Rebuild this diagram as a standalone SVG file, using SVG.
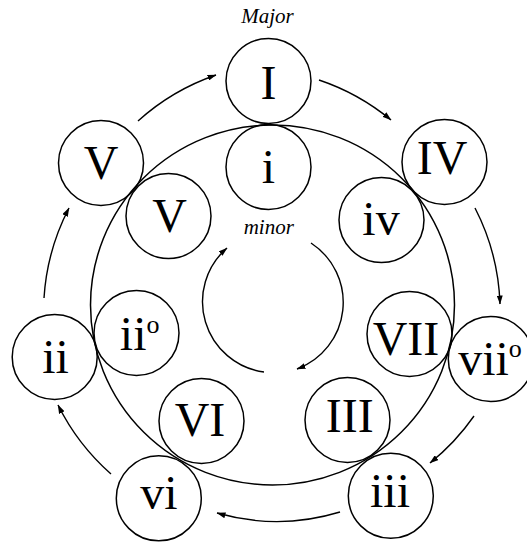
<svg xmlns="http://www.w3.org/2000/svg" width="527" height="545" viewBox="0 0 527 545">
<style>
.n{fill:none;stroke:#000;stroke-width:1.5}
.t{font-family:"Liberation Serif","Times New Roman",serif;font-size:48px;text-anchor:middle;fill:#000}
.s{font-size:26px}
.lab{font-family:"Liberation Serif","Times New Roman",serif;font-size:21px;font-style:italic;text-anchor:middle;fill:#000}
.c{fill:none;stroke:#000;stroke-width:1.4;marker-end:url(#ah)}
</style>
<defs>
<marker id="ah" viewBox="0 0 9 6" refX="8.5" refY="3" markerWidth="9" markerHeight="6" markerUnits="userSpaceOnUse" orient="auto">
<path d="M0,0 L9,3 L0,6 z" fill="#000"/>
</marker>
</defs>
<rect width="527" height="545" fill="#fff"/>
<ellipse id="ring" cx="272.5" cy="305" rx="182" ry="180" class="n"/>
<text class="lab" x="267.5" y="23">Major</text>
<text class="lab" x="268.8" y="234">minor</text>
<g id="maj-I"><circle cx="268.5" cy="81" r="42.5" class="n"/><text class="t" x="268.5" y="99">I</text></g>
<g id="maj-IV"><circle cx="444.5" cy="162" r="42.5" class="n"/><text class="t" x="442" y="174">IV</text></g>
<g id="maj-vii"><circle cx="490.8" cy="359" r="42.5" class="n"/><text class="t" x="490" y="375">vii<tspan class="s" dy="-18">o</tspan></text></g>
<g id="maj-iii"><circle cx="390.8" cy="495.8" r="42.5" class="n"/><text class="t" x="390" y="506.7">iii</text></g>
<g id="maj-vi"><circle cx="158.8" cy="498.3" r="42.5" class="n"/><text class="t" x="159" y="509">vi</text></g>
<g id="maj-ii"><circle cx="54.7" cy="357" r="42.5" class="n"/><text class="t" x="55.5" y="372.7">ii</text></g>
<g id="maj-V"><circle cx="101" cy="163" r="42.5" class="n"/><text class="t" x="101" y="179">V</text></g>
<g id="min-i"><circle cx="268.5" cy="167" r="42.5" class="n"/><text class="t" x="268.5" y="182.7">i</text></g>
<g id="min-iv"><circle cx="381.5" cy="220" r="42.5" class="n"/><text class="t" x="381" y="235">iv</text></g>
<g id="min-VII"><circle cx="409.5" cy="334" r="42.5" class="n"/><text class="t" x="406" y="355">VII</text></g>
<g id="min-III"><circle cx="347.5" cy="420" r="42.5" class="n"/><text class="t" x="349.7" y="431.7">III</text></g>
<g id="min-VI"><circle cx="201.5" cy="421" r="42.5" class="n"/><text class="t" x="200" y="436">VI</text></g>
<g id="min-ii"><circle cx="136.5" cy="333" r="42.5" class="n"/><text class="t" x="139.7" y="350">ii<tspan class="s" dy="-17">o</tspan></text></g>
<g id="min-V"><circle cx="168.5" cy="216" r="42.5" class="n"/><text class="t" x="169.5" y="231.7">V</text></g>
<g id="connectors">
<path class="c" d="M138,121 A226,226 0 0 1 216,75"/>
<path class="c" d="M319,80 A226,226 0 0 1 391,120"/>
<path class="c" d="M475,208 A226,226 0 0 1 500,304"/>
<path class="c" d="M474,416 A226,226 0 0 1 430,463"/>
<path class="c" d="M340,512 A217,217 0 0 1 217,513"/>
<path class="c" d="M111,474 A226,226 0 0 1 58,405"/>
<path class="c" d="M44,298 A226,226 0 0 1 69,208"/>
<path class="c" d="M264,372 A71,71 0 0 1 227,248"/>
<path class="c" d="M311,243 A71,71 0 0 1 297,369"/>
</g>
</svg>
